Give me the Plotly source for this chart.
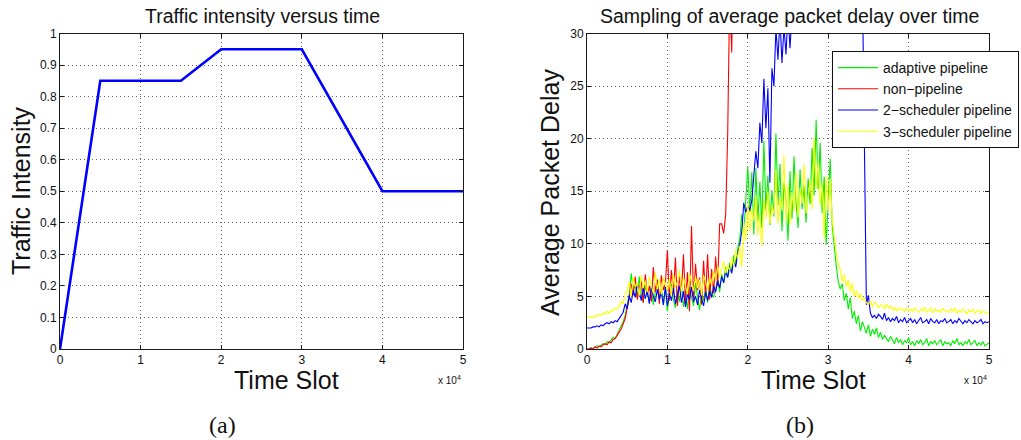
import plotly.graph_objects as go

# ---- panel (a): traffic intensity schedule ----
intensity_t = [0, 5000, 15000, 20000, 30000, 40000, 50000]
intensity_v = [0.0, 0.85, 0.85, 0.95, 0.95, 0.50, 0.50]

# ---- panel (b): sampled average packet delay, one sample every 250 slots ----
SAMPLE_STEP = 250

adaptive = [
    0.0, 0.0, 0.1, 0.0, 0.2, 0.3, 0.2, 0.4, 0.5, 0.4, 0.7, 0.6, 0.9, 1.1, 1.0, 1.4, 1.7, 2.1, 2.6, 3.2,
    4.1, 5.2, 7.2, 5.6, 6.3, 4.9, 6.9, 5.1, 4.4, 6.0, 5.3, 4.6, 5.8, 4.2, 5.5, 6.4, 4.8, 5.7, 4.3, 5.9,
    3.6, 5.4, 6.2, 4.7, 3.9, 5.6, 4.5, 6.1, 4.0, 5.2, 3.8, 5.9, 4.9, 4.1, 6.3, 5.0, 3.7, 5.4, 4.6, 5.8,
    4.4, 6.1, 5.2, 4.9, 5.8, 6.6, 5.4, 7.1, 6.3, 7.8, 6.8, 8.2, 7.4, 8.9, 8.1, 9.6, 10.5, 12.8, 11.0, 14.2,
    17.3, 13.0, 16.8, 10.9, 17.2, 12.1, 15.9, 11.5, 19.8, 13.2, 16.5, 11.8, 15.1, 12.6, 20.5, 13.7, 17.6, 11.2, 15.8, 14.1,
    10.3, 16.9, 12.4, 18.3, 14.0, 11.5, 17.1, 13.3, 15.6, 12.0, 16.2, 13.8, 19.1, 14.6, 21.8, 15.2, 19.6, 12.9, 16.4, 9.9,
    14.3, 18.1, 11.7, 9.6, 7.9, 6.4, 5.7, 6.2, 4.6, 5.3, 3.8, 4.9, 2.9, 3.6, 2.4, 3.2, 1.7, 2.6, 2.1, 1.5,
    2.3, 1.2, 1.9, 1.4, 2.0, 1.1, 1.6, 0.9, 1.3, 1.0, 0.7, 1.2, 0.8, 0.5, 1.1, 0.6, 0.9, 0.4, 0.8, 0.6,
    1.1, 0.4, 0.7, 0.3, 0.8, 0.5, 0.9, 0.4, 0.6, 1.0, 0.3, 0.7, 0.5, 0.8, 0.4, 0.6, 0.9, 0.3, 0.7, 0.5,
    0.6, 0.3, 0.8, 0.5, 1.0, 0.4, 0.6, 0.3, 0.7, 0.5, 0.9, 0.4, 0.6, 0.8, 0.3, 0.6, 0.4, 0.7, 0.3, 0.5, 0.6,
]

non_pipeline = [
    0.0, 0.0, 0.1, 0.0, 0.2, 0.1, 0.3, 0.2, 0.4, 0.5, 0.4, 0.7, 0.6, 0.9, 1.0, 1.3, 1.6, 1.9, 2.4, 2.9,
    3.9, 4.8, 6.2, 5.1, 6.9, 4.7, 5.8, 6.5, 4.4, 7.1, 5.2, 6.0, 4.5, 7.8, 5.4, 6.6, 4.3, 7.0, 5.6, 6.2,
    9.4, 4.6, 7.5, 5.2, 8.7, 4.1, 6.9, 5.5, 9.0, 4.4, 7.3, 3.6, 11.7, 4.8, 8.1, 5.6, 6.8, 4.2, 8.4, 5.0,
    9.0, 4.7, 7.6, 5.3, 8.8, 6.0, 11.9, 11.9, 11.0, 12.8, 20.5, 34.0, 28.2, 40.0,
]

sched2 = [
    2.0, 2.0, 2.0, 2.1, 2.1, 2.2, 2.1, 2.3, 2.2, 2.4, 2.5, 2.4, 2.6, 2.5, 2.7, 2.6, 2.9, 3.1, 3.5, 4.3,
    3.8, 5.1, 4.4, 5.6, 4.9, 6.2, 5.3, 4.6, 5.8, 4.8, 5.5, 4.3, 6.0, 5.0, 4.5, 5.7, 4.7, 5.4, 4.2, 5.9,
    4.1, 5.3, 4.6, 5.8, 4.3, 5.1, 6.0, 4.4, 5.5, 4.0, 5.2, 4.7, 5.9, 4.5, 5.0, 4.2, 5.6, 4.8, 4.1, 5.4,
    4.6, 5.5, 4.9, 6.0, 5.4, 6.5, 5.8, 6.9, 6.3, 7.4, 6.8, 7.9, 7.2, 8.4, 7.8, 9.1, 9.9, 11.2, 13.9, 13.0,
    13.6, 13.2, 14.1, 16.5, 18.8, 17.2, 21.5, 19.6, 25.7, 21.0, 24.8, 15.8, 26.7, 25.0, 30.5, 27.5, 31.5, 27.2, 30.6, 28.0,
    32.0, 28.6, 33.0, 35.0, 36.0, 35.0, 37.0, 36.0, 38.0, 36.0, 37.0, 35.0, 36.0, 38.0, 37.0, 36.0, 35.0, 37.0, 36.0, 38.0,
    37.0, 36.0, 38.0, 35.0, 36.0, 37.0, 38.0, 36.0, 35.0, 37.0, 36.0, 38.0, 37.0, 36.0, 35.0, 36.0, 37.0, 35.0, 18.0, 4.2,
    5.1, 3.4, 3.0, 3.2, 2.9, 3.3, 3.1, 2.8, 3.4, 2.7, 3.0, 2.6, 2.9, 2.7, 3.1, 2.5, 2.8, 2.6, 3.0, 2.5,
    2.7, 2.9, 2.5, 2.8, 2.4, 2.7, 3.0, 2.5, 2.6, 2.8, 2.4, 2.9, 2.6, 2.5, 2.8, 2.4, 2.7, 2.6, 2.9, 2.5,
    2.6, 2.8, 2.4, 2.7, 2.5, 2.9, 2.6, 2.4, 2.7, 2.5, 2.8, 2.6, 2.4, 2.7, 2.5, 2.6, 2.8, 2.4, 2.6, 2.5, 2.6,
]

sched3 = [
    3.0, 3.0, 3.1, 3.0, 3.2, 3.1, 3.3, 3.2, 3.4, 3.3, 3.6, 3.4, 3.7, 3.6, 3.9, 3.8, 4.1, 4.5, 4.3, 5.2,
    5.5, 6.4, 5.0, 6.8, 5.9, 6.3, 5.1, 7.0, 5.8, 6.5, 5.4, 6.9, 6.0, 5.3, 7.3, 5.7, 6.6, 5.2, 6.8, 6.1,
    5.6, 6.7, 5.0, 7.1, 5.9, 6.4, 7.5, 5.4, 6.8, 6.0, 5.2, 7.2, 6.3, 5.5, 6.9, 5.8, 6.6, 5.1, 7.0, 6.2,
    5.7, 6.8, 6.1, 7.4, 6.5, 7.9, 6.8, 7.6, 8.3, 7.2, 8.0, 7.5, 8.7, 7.9, 9.4, 8.6, 9.8, 7.8, 12.1, 10.3,
    13.8, 11.2, 13.5, 12.1, 14.6, 10.8, 12.9, 9.8, 14.2, 12.4, 15.0, 11.9, 13.6, 12.8, 17.1, 11.9, 14.4, 13.2, 18.4, 12.1,
    15.7, 11.8, 14.9, 13.1, 16.8, 12.5, 15.3, 13.8, 17.6, 12.9, 14.8, 16.1, 13.3, 20.1, 15.2, 17.9, 13.6, 15.9, 10.5, 16.4,
    13.1, 16.2, 12.3, 10.4, 9.2, 8.1, 7.6, 6.4, 7.1, 5.9, 6.6, 5.4, 6.3, 5.0, 5.6, 4.8, 5.3, 4.6, 4.9, 4.4,
    4.2, 4.6, 4.0, 4.4, 4.3, 3.9, 4.2, 4.1, 3.8, 4.3, 3.9, 4.1, 3.7, 4.0, 3.6, 3.9, 3.7, 3.8, 3.6, 3.9,
    3.6, 3.8, 3.5, 3.9, 3.7, 3.5, 3.8, 3.6, 4.0, 3.5, 3.7, 3.9, 3.4, 3.8, 3.6, 3.7, 3.5, 3.9, 3.6, 3.7,
    3.5, 3.8, 3.6, 3.9, 3.4, 3.7, 3.5, 3.8, 3.6, 3.3, 3.7, 3.5, 3.8, 3.4, 3.6, 3.7, 3.4, 3.6, 3.5, 3.4, 3.5,
]

series_names = ["adaptive pipeline", "non\u2212pipeline", "2\u2212scheduler pipeline", "3\u2212scheduler pipeline"]
series_values = [adaptive, non_pipeline, sched2, sched3]
series_colors = ["#00ee00", "#ff0000", "#0000ff", "#ffff00"]

x_ticks = [0, 10000, 20000, 30000, 40000, 50000]
x_tick_text = ["0", "1", "2", "3", "4", "5"]
a_y_ticks = [0, 0.1, 0.2, 0.3, 0.4, 0.5, 0.6, 0.7, 0.8, 0.9, 1.0]
a_y_tick_text = ["0", "0.1", "0.2", "0.3", "0.4", "0.5", "0.6", "0.7", "0.8", "0.9", "1"]
b_y_ticks = [0, 5, 10, 15, 20, 25, 30]

W, H = 1021, 440
FONT = "Liberation Sans, Arial, Helvetica, sans-serif"


def px_x(p):
    return p / W


def px_y(p):
    return 1 - p / H


fig = go.Figure()

fig.add_trace(go.Scatter(
    x=intensity_t, y=intensity_v, mode="lines",
    line=dict(color="#0000ff", width=2.6),
    xaxis="x", yaxis="y", showlegend=False,
))

for name, vals, col in zip(series_names, series_values, series_colors):
    t = [i * SAMPLE_STEP for i in range(len(vals))]
    fig.add_trace(go.Scatter(
        x=t, y=vals, mode="lines", name=name,
        line=dict(color=col, width=1.1),
        xaxis="x2", yaxis="y2",
    ))

axis_common = dict(
    showline=True, linecolor="#1a1a1a", linewidth=1, mirror="ticks",
    ticks="inside", ticklen=4, tickcolor="#1a1a1a",
    showgrid=True, gridcolor="#666666", griddash="1px,3px", gridwidth=1,
    zeroline=False, tickfont=dict(family=FONT, size=12, color="#111"),
)

fig.update_layout(
    width=W, height=H,
    margin=dict(l=0, r=0, t=0, b=0, autoexpand=False),
    paper_bgcolor="white", plot_bgcolor="white",
    font=dict(family=FONT, color="#111"),
    xaxis=dict(domain=[px_x(60), px_x(463)], range=[0, 50000],
               tickvals=x_ticks, ticktext=x_tick_text, anchor="y", **axis_common),
    yaxis=dict(domain=[px_y(349), px_y(33.5)], range=[0, 1],
               tickvals=a_y_ticks, ticktext=a_y_tick_text, anchor="x", **axis_common),
    xaxis2=dict(domain=[px_x(587), px_x(989)], range=[0, 50000],
                tickvals=x_ticks, ticktext=x_tick_text, anchor="y2", **axis_common),
    yaxis2=dict(domain=[px_y(349), px_y(33.5)], range=[0, 30],
                tickvals=b_y_ticks, anchor="x2", **axis_common),
    legend=dict(
        x=px_x(832), y=px_y(51), xanchor="left", yanchor="top",
        bgcolor="white", bordercolor="#111", borderwidth=1,
        font=dict(family=FONT, size=14, color="#111"),
        tracegroupgap=0, itemwidth=40,
    ),
)

annotations = [
    dict(text="Traffic intensity versus time", x=px_x(262), y=px_y(16), size=19.5),
    dict(text="Sampling of average packet delay over time", x=px_x(789), y=px_y(16), size=19.5),
    dict(text="Time Slot", x=px_x(286), y=px_y(380), size=25),
    dict(text="Time Slot", x=px_x(813), y=px_y(380), size=25),
    dict(text="x 10<sup>4</sup>", x=px_x(449), y=px_y(380), size=10),
    dict(text="x 10<sup>4</sup>", x=px_x(975), y=px_y(380), size=10),
]
for a in annotations:
    fig.add_annotation(
        text=a["text"], x=a["x"], y=a["y"], xref="paper", yref="paper",
        xanchor="center", yanchor="middle", showarrow=False,
        font=dict(family=FONT, size=a["size"], color="#111"),
    )

for text, xc, yc in [("Traffic Intensity", 21, 191), ("Average Packet Delay", 550, 193)]:
    fig.add_annotation(
        text=text, x=px_x(xc), y=px_y(yc), xref="paper", yref="paper",
        xanchor="center", yanchor="middle", showarrow=False, textangle=-90,
        font=dict(family=FONT, size=25, color="#111"),
    )

for text, xc in [("(a)", 222), ("(b)", 800)]:
    fig.add_annotation(
        text=text, x=px_x(xc), y=px_y(425), xref="paper", yref="paper",
        xanchor="center", yanchor="middle", showarrow=False,
        font=dict(family="Liberation Serif, Times New Roman, serif", size=24, color="#111"),
    )

fig.write_html("out.html")
